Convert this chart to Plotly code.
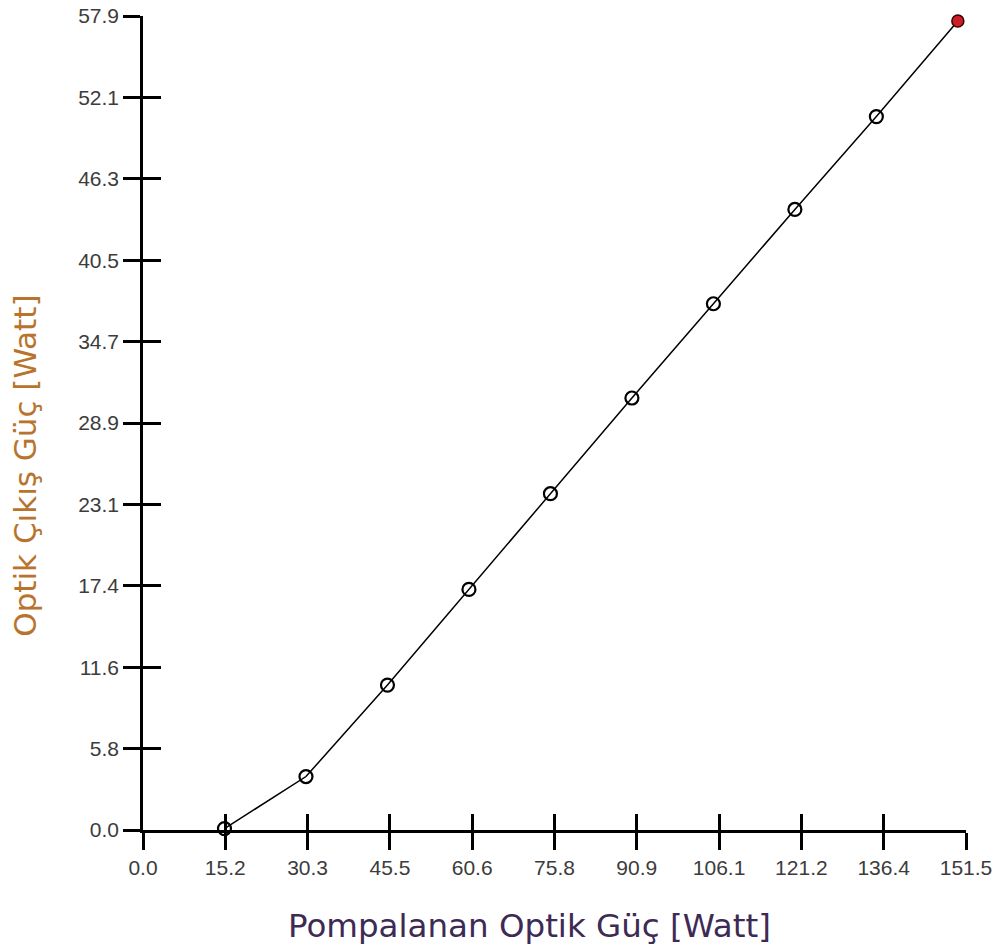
import plotly.graph_objects as go

# Data
pump_power = [15, 30, 45, 60, 75, 90, 105, 120, 135, 150]
output_power = [0.1, 3.8, 10.3, 17.1, 23.9, 30.7, 37.4, 44.1, 50.7, 57.5]

x_tickvals = [0, 15.15, 30.3, 45.45, 60.6, 75.75, 90.9, 106.05, 121.2, 136.35, 151.5]
x_ticktext = ["0.0", "15.2", "30.3", "45.5", "60.6", "75.8", "90.9", "106.1", "121.2", "136.4", "151.5"]
y_tickvals = [0, 5.785, 11.57, 17.355, 23.14, 28.925, 34.71, 40.495, 46.28, 52.065, 57.85]
y_ticktext = ["0.0", "5.8", "11.6", "17.4", "23.1", "28.9", "34.7", "40.5", "46.3", "52.1", "57.9"]

x_title = "Pompalanan Optik Güç [Watt]"
y_title = "Optik Çıkış Güç [Watt]"

fig = go.Figure()

fig.add_trace(go.Scatter(
    x=pump_power, y=output_power, mode="lines",
    line=dict(color="black", width=1.5),
    cliponaxis=False, showlegend=False, hoverinfo="skip"))
fig.add_trace(go.Scatter(
    x=pump_power[:-1], y=output_power[:-1], mode="markers",
    marker=dict(symbol="circle-open", size=13, color="black", line=dict(width=2.2, color="black")),
    cliponaxis=False, showlegend=False, hoverinfo="skip"))
fig.add_trace(go.Scatter(
    x=pump_power[-1:], y=output_power[-1:], mode="markers",
    marker=dict(symbol="circle", size=12, color="#cc1e24", line=dict(width=1.5, color="#3a0000")),
    cliponaxis=False, showlegend=False, hoverinfo="skip"))
# invisible trace on overlay axes (inner halves of the crossing ticks)
fig.add_trace(go.Scatter(
    x=pump_power, y=output_power, mode="lines", xaxis="x2", yaxis="y2",
    line=dict(color="rgba(0,0,0,0)", width=0), showlegend=False, hoverinfo="skip"))

tickfont = dict(family="Liberation Sans, Arial, sans-serif", size=21, color="#3c3c3c")

fig.update_layout(
    width=1006, height=948,
    margin=dict(l=143, r=40, t=16, b=118, autoexpand=False),
    paper_bgcolor="white", plot_bgcolor="white",
    hovermode=False,
    xaxis=dict(range=[0, 151.5], tickvals=x_tickvals, ticktext=x_ticktext, automargin=False,
               ticklabeloverflow="allow",
               showgrid=False, zeroline=False, showline=True, linecolor="black", linewidth=2.5,
               ticks="outside", ticklen=17, tickwidth=2.5, tickcolor="black",
               tickfont=tickfont, anchor="y"),
    yaxis=dict(range=[0, 57.85], tickvals=y_tickvals, ticktext=y_ticktext, automargin=False,
               ticklabeloverflow="allow",
               showgrid=False, zeroline=False, showline=True, linecolor="black", linewidth=2.5,
               ticks="outside", ticklen=17, tickwidth=2.5, tickcolor="black",
               tickfont=tickfont, anchor="x"),
    xaxis2=dict(overlaying="x", matches="x", range=[0, 151.5], tickvals=x_tickvals, automargin=False,
                showticklabels=False, showgrid=False, zeroline=False, showline=False,
                ticks="inside", ticklen=16, tickwidth=2.5, tickcolor="black", anchor="y2", side="bottom"),
    yaxis2=dict(overlaying="y", matches="y", range=[0, 57.85], tickvals=y_tickvals, automargin=False,
                showticklabels=False, showgrid=False, zeroline=False, showline=False,
                ticks="inside", ticklen=18, tickwidth=2.5, tickcolor="black", anchor="x2", side="left"),
    annotations=[
        dict(text=x_title, xref="paper", yref="paper", x=0.470, y=-0.118,
             xanchor="center", yanchor="middle", showarrow=False,
             font=dict(family="DejaVu Sans, Verdana, sans-serif", size=32.5, color="#3d2a55")),
        dict(text=y_title, xref="paper", yref="paper", x=-0.1429, y=0.448,
             xanchor="center", yanchor="middle", showarrow=False, textangle=-90,
             font=dict(family="DejaVu Sans, Verdana, sans-serif", size=31, color="#b8742c")),
    ],
)

fig.write_html("out.html", config={"displayModeBar": False},
               post_script="document.body.style.margin='0px';")
